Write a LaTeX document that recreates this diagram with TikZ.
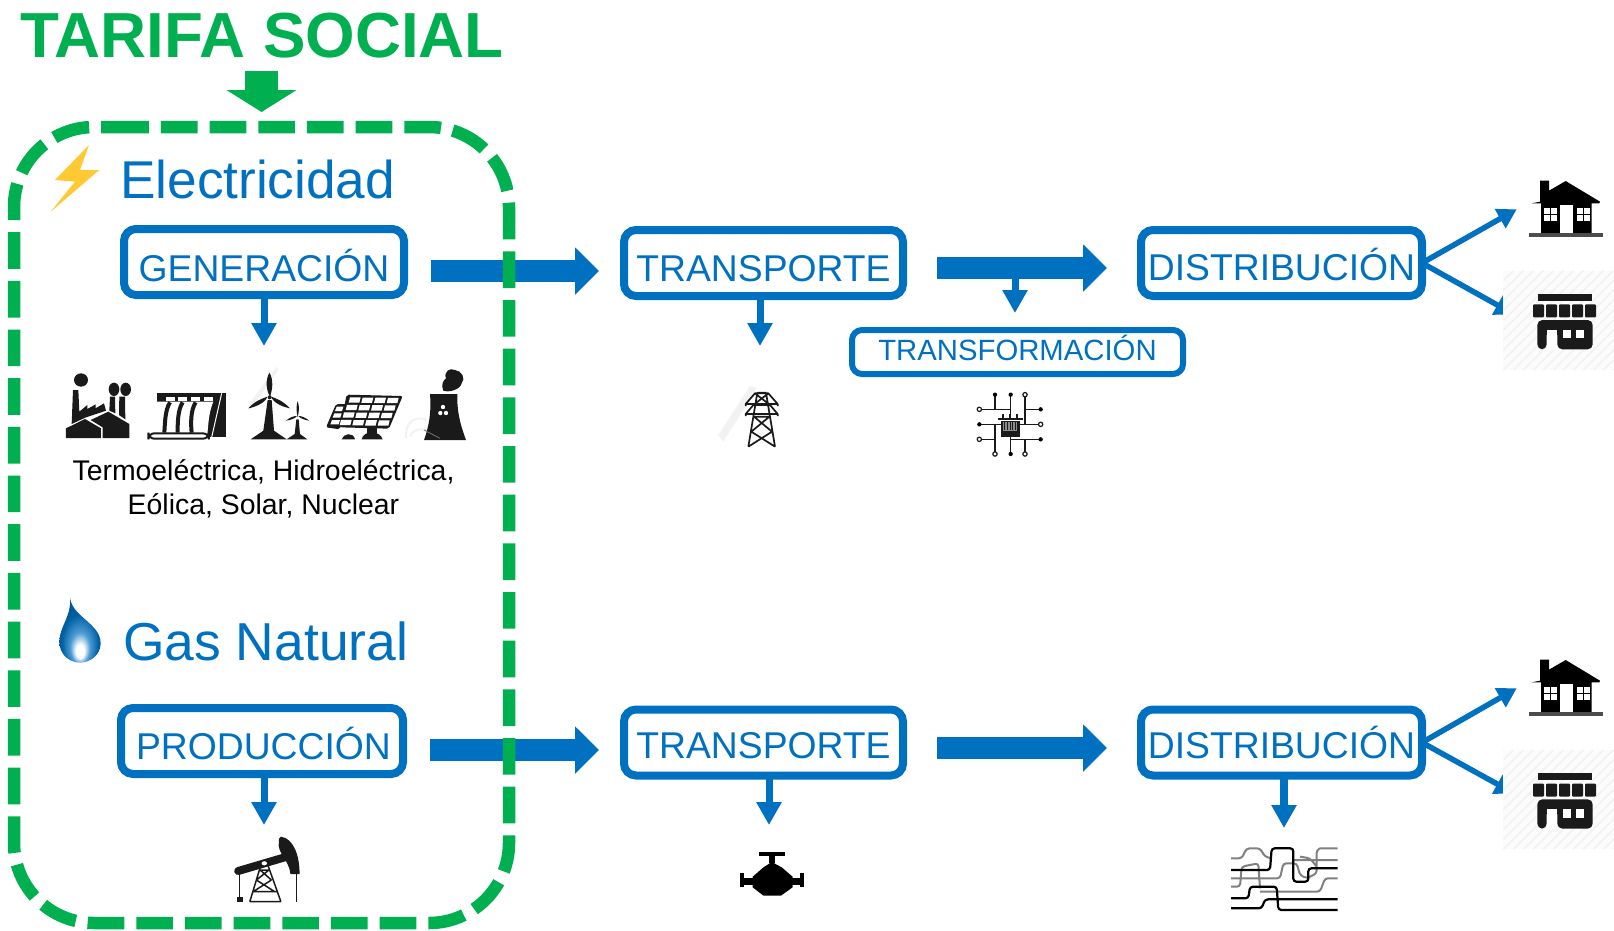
\documentclass[tikz,border=0pt]{standalone}
\usepackage{fontspec}
\setmainfont{Liberation Sans}
\usetikzlibrary{arrows.meta,calc}
\definecolor{azul}{HTML}{0070C0}
\definecolor{verde}{HTML}{00B050}
\definecolor{negro}{HTML}{1A1A1A}
\definecolor{marca}{HTML}{F2F2F2}
\definecolor{rayo}{HTML}{FFC933}
\pgfdeclareradialshading{llama}{\pgfpoint{0bp}{-18bp}}{color(0bp)=(white);color(5bp)=(white);color(12bp)=(azul!70!white);color(22bp)=(azul!85!black);color(50bp)=(azul!50!black)}
\tikzset{
 zm/.style n args={4}{shift={(#1pt,-#2pt)},x=#3pt,y=-#4pt},
 caja/.style={draw=azul,line width=8pt,rounded corners=12pt,outer sep=0pt,inner sep=0pt,text=azul,
   font=\fontsize{37.3}{37.3}\selectfont,text depth=0pt,minimum height=66pt},
 cajita/.style={draw=azul,line width=6pt,rounded corners=10pt,outer sep=0pt,inner sep=0pt,text=azul,
   font=\fontsize{29.3}{30}\selectfont,text height=16pt,text depth=0pt,minimum height=44pt,minimum width=331pt},
 gruesa/.style={draw=azul,line width=22pt,-{Triangle[length=24pt,width=46pt]},shorten <=26.5pt,shorten >=25pt},
 gruesab/.style={draw=azul,line width=22pt,-{Triangle[length=24pt,width=46pt]}},
 abajo/.style={draw=azul,line width=7pt,-{Triangle[length=23pt,width=24pt]}},
 abajog/.style={draw=azul,line width=8.5pt,-{Triangle[length=23pt,width=24pt]}},
 rama/.style={draw=azul,line width=5.5pt,-{Triangle[length=19pt,width=21pt]}},
 titulo/.style={text=azul,anchor=base west,inner sep=0pt,font=\fontsize{53.2}{53.2}\selectfont},
}
\newcommand\casa[1]{\begin{scope}[zm={1400}{#1}{.33333}{.33333}]
 \fill[black] (420,155)--(420,92)--(447,92)--(447,122)--(497,93)--(600,155)--(598,160)--(575,160)--(575,250)--(423,250)--(423,160)--(395,160)--cycle;
 \fill[white] (480,165) rectangle (518,250);
 \fill[white] (432,175) rectangle (470,212);
 \fill[white] (532,175) rectangle (570,212);
 \draw[black,line width=1pt] (451,175)--(451,212) (432,193)--(470,193) (551,175)--(551,212) (532,193)--(570,193);
 \fill[black!70] (388,250) rectangle (608,262);
\end{scope}}
\newcommand\tienda[1]{\begin{scope}[zm={1400}{#1}{.33333}{.33333}]
 \fill[black!1] (310,362) rectangle (642,660);
 \begin{scope}
  \clip (310,362) rectangle (642,660);
  \foreach \i in {0,30,...,660} \draw[marca,line width=1.5pt] (310+\i-300,660)--(310+\i,362);
 \end{scope}
 \fill[negro] (415,432) rectangle (575,452);
 \foreach \i in {0,...,4} \fill[negro,rounded corners=1pt] (399+\i*39,463) rectangle (432+\i*39,502);
 \fill[negro,rounded corners=5pt] (412,510)--(578,510)--(578,598)--(472,598)--(472,540)--(440,540)--(440,598)--(412,598)--cycle;
 \fill[white] (490,540) rectangle (512,565);
 \fill[white] (528,540) rectangle (552,565);
 \fill[white] (440,540) rectangle (472,600);
\end{scope}}
\begin{document}
\begin{tikzpicture}[x=1pt,y=-1pt]
\useasboundingbox (0,0) rectangle (1614,930);
\fill[white] (0,0) rectangle (1614,930);

% cajas
\node[caja,minimum width=280pt,text height=38pt] (gen) at (264,262) {GENERACIÓN};
\node[caja,minimum width=279pt,text height=36pt] (tr1) at (763.5,263) {TRANSPORTE};
\node[caja,minimum width=281pt,text height=35pt] (dis1) at (1281.5,263) {DISTRIBUCIÓN};
\node[cajita] (transf) at (1017.5,352) {TRANSFORMACIÓN};
\node[caja,minimum width=282pt,text height=36pt] (prod) at (262,741) {\hspace*{3pt}PRODUCCIÓN};
\node[caja,minimum width=279pt,text height=32pt] (tr2) at (763.5,742.5) {TRANSPORTE};
\node[caja,minimum width=281pt,text height=32pt] (dis2) at (1281.5,742.5) {DISTRIBUCIÓN};

% coordenadas libres
\coordinate (c1) at (1516.7,209.3);
\coordinate (c2) at (1514,314.3);
\coordinate (c3) at (1516.7,688.3);
\coordinate (c4) at (1514,793.3);
\coordinate (g1) at (264,346);
\coordinate (t1) at (760,346);
\coordinate (p1) at (264,825);
\coordinate (t2) at (769,825);
\coordinate (d2) at (1284,828);
\coordinate (ta) at (937,268);
\coordinate (tb) at (1107,268);
\coordinate (tc) at (1015,279);
\coordinate (td) at (1015,313);
\coordinate (ba) at (937,748);
\coordinate (bb) at (1107,748);

% flechas
\draw[gruesa] ([yshift=-9pt]gen.east) -- ([yshift=-8pt]tr1.west);
\draw[gruesab] (ta) -- (tb);
\draw[abajo] (tc) -- (td);
\draw[gruesa] ([yshift=-9pt]prod.east) -- ([yshift=-7.5pt]tr2.west);
\draw[gruesab] (ba) -- (bb);
\draw[abajo] (gen.south) -- (g1);
\draw[abajo] (tr1.south -| t1) -- (t1);
\draw[abajo] (prod.south -| p1) -- (p1);
\draw[abajo] (tr2.south -| t2) -- (t2);
\draw[abajog] (dis2.south -| d2) -- (d2);
\draw[rama] (dis1.east) -- (c1);
\draw[rama] (dis1.east) -- (c2);
\draw[rama] (dis2.east) -- (c3);
\draw[rama] (dis2.east) -- (c4);

% recuadro verde
\draw[verde,line width=12.5pt,dash pattern=on 36.67pt off 12pt]
  (112.3,127)--(429,127) arc[start angle=90,end angle=0,radius=80pt]
  --(509,843) arc[start angle=0,end angle=-90,radius=80pt]
  --(94,923) arc[start angle=-90,end angle=-180,radius=80pt]
  --(14,207) arc[start angle=180,end angle=90,radius=80pt]--(112.3,127);

% titulo
\node[anchor=base west,inner sep=0pt,text=verde,font=\bfseries\fontsize{63.7}{63.7}\selectfont] (tit) at (20,57) {TARIFA SOCIAL};
\coordinate (fv) at (261.5,71);
\coordinate (fw) at (261.5,112);
\draw[verde,line width=33pt,-{Triangle[length=22pt,width=69pt]}] (fv) -- (fw);

\node[titulo] (elec) at (120,198) {Electricidad};
\node[titulo,font=\fontsize{53.4}{53.4}\selectfont] (gas) at (123,660) {Gas Natural};
\node[inner sep=0pt,align=center,font=\fontsize{28.4}{33.8}\selectfont,text=black] (lista) at (263.5,489) {Termoeléctrica, Hidroeléctrica,\\Eólica, Solar, Nuclear};

% rayo
\begin{scope}[zm={0}{0}{.33333}{.33333}]
 \fill[rayo] (267,435)--(165,540)--(225,545)--(152,635)--(298,510)--(240,510)--cycle;
\end{scope}
% llama
\begin{scope}[zm={0}{580}{.33333}{.33333}]
 \path[shading=llama] (210,52) .. controls (215,110) and (302,130) .. (302,190) .. controls (302,225) and (270,248) .. (240,248) .. controls (205,248) and (178,220) .. (178,185) .. controls (178,140) and (215,110) .. (210,52) -- cycle;
\end{scope}

% fabrica, presa, eolica, solar, nuclear
\begin{scope}[zm={0}{340}{.33333}{.33333}]
 \fill[negro] (198,294)--(198,265)--(255,237)--(303,265)--(303,294)--cycle;
 \fill[negro] (308,294)--(308,262)--(272,240)--(325,215)--(388,252)--(388,294)--cycle;
 \fill[negro] (215,252)--(219,150)--(235,150)--(238,215)--(262,195)--(262,207)--(287,193)--(287,205)--(312,190)--(318,212)--(258,232)--cycle;
 \fill[negro] (328,212)--(330,170)--(345,170)--(346,220)--cycle;
 \fill[negro] (357,225)--(358,170)--(375,170)--(376,238)--cycle;
 \fill[negro] (243,120) ellipse (21 and 20);
 \fill[negro] (342,148) ellipse (16 and 20);
 \fill[negro] (377,148) ellipse (16 and 20);
 % presa
 \fill[negro] (470,160) rectangle (678,292);
 \fill[white] (470,185) .. controls (480,185) and (640,185) .. (640,185) .. controls (625,220) and (625,260) .. (622,282) -- (450,282) .. controls (465,250) and (465,220) .. (470,185) -- cycle;
 \foreach \a/\b in {497/525,535/562,573/600,612/640} \fill[white] (\a,172) rectangle (\b,182);
 \draw[negro,line width=4pt] (510,187) .. controls (495,210) and (495,250) .. (493,278);
 \draw[negro,line width=4pt] (548,187) .. controls (533,210) and (533,250) .. (533,278);
 \draw[negro,line width=4pt] (587,187) .. controls (572,210) and (572,250) .. (575,278);
 \draw[negro,line width=2pt,fill=white,rounded corners=6pt] (445,280) rectangle (627,296);
 \draw[white,line width=1pt] (665,160)--(635,292);
 % eolicas
 \fill[marca] (745,195)--(830,80)--(835,90)--(750,210)--cycle;
 \fill[negro] (803,180)--(815,180)--(822,272)--(860,298)--(752,298)--(790,272)--cycle;
 \fill[negro] (808,98) .. controls (822,120) and (817,150) .. (810,170) .. controls (798,150) and (796,120) .. (808,98) -- cycle;
 \fill[negro] (745,205) .. controls (765,183) and (785,176) .. (802,170) .. controls (797,187) and (770,200) .. (745,205) -- cycle;
 \fill[negro] (870,205) .. controls (850,183) and (830,176) .. (814,170) .. controls (818,187) and (845,200) .. (870,205) -- cycle;
 \fill[negro] (809,172) circle (6);
 \fill[negro] (889,238)--(896,238)--(900,282)--(922,298)--(860,298)--(884,282)--cycle;
 \fill[negro] (893,183) .. controls (899,200) and (897,215) .. (893,232) .. controls (889,215) and (888,200) .. (893,183) -- cycle;
 \fill[negro] (858,242) .. controls (870,232) and (880,228) .. (891,228) .. controls (885,236) and (872,240) .. (858,242) -- cycle;
 \fill[negro] (928,242) .. controls (915,232) and (905,228) .. (895,228) .. controls (902,236) and (915,240) .. (928,242) -- cycle;
 % solar
 \fill[negro,rounded corners=2pt] (1008,192)--(1040,192)--(1020,268)--(978,262)--cycle;
 \foreach \j in {0,1,2} \fill[white] (1010-\j*7,200+\j*20)--(1030-\j*5,200+\j*20)--(1026-\j*5,213+\j*20)--(1005-\j*7,213+\j*20)--cycle;
 \fill[negro,rounded corners=2pt] (1040,164)--(1208,168)--(1167,266)--(1020,262)--cycle;
 \foreach \i in {0,1,2,3} \foreach \j in {0,1,2,3} {
  \fill[white] (1050+\i*38-\j*9,172+\i*.5+\j*22.5)--(1082+\i*38-\j*9,172+\i*.5+\j*22.5)--(1078+\i*38-\j*9,188+\i*.5+\j*22.5)--(1046+\i*38-\j*9,188+\i*.5+\j*22.5)--cycle;}
 \fill[negro] (1025,298) .. controls (1030,280) and (1060,275) .. (1065,298) -- cycle;
 \fill[negro] (1085,298) .. controls (1090,270) and (1140,270) .. (1148,298) -- cycle;
 \fill[negro] (1100,262) rectangle (1130,285);
 % nuclear
 \draw[marca,line width=2pt] (1218,295) .. controls (1215,250) and (1240,225) .. (1280,240);
 \draw[marca,line width=2pt] (1230,290) .. controls (1240,260) and (1280,260) .. (1320,295);
 \fill[negro] (1290,162)--(1372,162) .. controls (1370,220) and (1385,265) .. (1398,300) -- (1272,300) .. controls (1285,265) and (1295,220) .. (1290,162) -- cycle;
 \draw[black!55,line width=.8pt] (1272,270)--(1320,295);
 \fill[negro] (1330,152) .. controls (1322,135) and (1330,120) .. (1338,115) .. controls (1330,95) and (1350,82) .. (1365,90) .. controls (1385,92) and (1398,115) .. (1385,130) .. controls (1380,150) and (1345,158) .. (1330,152) -- cycle;
 \fill[white] (1329,201) circle (6.5);
 \fill[white] (1321,219) circle (6.5);
 \fill[white] (1338,219) circle (6.5);
\end{scope}

% torre, chip
\begin{scope}[zm={700}{320}{.33333}{.33333}]
 \fill[marca] (55,345)--(150,198)--(170,205)--(70,365)--cycle;
 \draw[negro,line width=1.7pt,line join=round]
  (172,218)--(145,380) (198,218)--(225,380)
  (172,218)--(198,218)
  (137,252)--(165,220)--(205,220)--(233,252)--cycle
  (137,282)--(160,255)--(210,255)--(233,282)--cycle
  (137,252)--(137,258) (233,252)--(233,258) (137,282)--(137,288) (233,282)--(233,288)
  (162,290)--(208,290) (162,290)--(216,335) (208,290)--(154,335) (154,335)--(225,380) (216,335)--(145,380)
  (165,220)--(210,255) (205,220)--(160,255);
 % chip
 \draw[negro,line width=1.5pt]
  (885,222)--(885,268) (838,268)--(932,268) (932,222)--(932,282)
  (975,222)--(975,313) (975,268)--(1022,268) (960,313)--(1022,313)
  (838,313)--(902,313) (885,313)--(885,402) (838,358)--(885,358)
  (932,350)--(932,402) (932,358)--(1022,358) (975,358)--(975,402);
 \draw[negro,line width=2.2pt] (908,282)--(908,300) (931,282)--(931,300) (952,282)--(952,300) (895,298)--(968,298);
 \fill[negro] (902,302) rectangle (960,350);
 \fill[black!45] (908,306) rectangle (952,332);
 \foreach \a in {914,922,930,938,946} \draw[negro,line width=.7pt] (\a,307)--(\a,331);
 \foreach \p in {(885,224),(932,224),(1022,268),(838,313),(1022,358),(932,402)} \fill[black] \p circle (6.5);
 \foreach \p in {(975,224),(838,268),(1022,313),(838,358),(885,402),(975,402)} \draw[negro,line width=1.2pt,fill=white] \p circle (6.5);
\end{scope}

\casa{150}\casa{629}
\tienda{150}\tienda{629.3}

% bombeo, valvula
\begin{scope}[zm={200}{780}{.41494}{.33333}]
 \draw[negro,line width=8pt,line cap=round] (92,273)--(215,228);
 \fill[negro] (195,170) .. controls (225,175) and (240,225) .. (240,282) -- (218,282) .. controls (215,240) and (185,220) .. (190,185) .. controls (190,175) and (192,172) .. (195,170) -- cycle;
 \draw[negro,line width=1.3pt] (96,275)--(96,355) (233,280)--(233,365);
 \fill[negro] (88,352) rectangle (104,365);
 \draw[negro,line width=1.5pt,line join=round] (148,250)--(120,365) (162,250)--(195,365) (120,365)--(195,365)
  (145,270)--(166,270) (145,270)--(172,300) (166,270)--(136,300) (136,300)--(180,335) (172,300)--(128,335) (128,335)--(188,335);
 \draw[negro,line width=1.5pt,fill=white] (155,250) circle (9);
 % valvula
 \fill[black] (1348,215) rectangle (1410,227);
 \fill[black] (1372,227) rectangle (1386,250);
 \fill[black] (1378,246)--(1402,262)--(1428,290)--(1428,322)--(1400,347)--(1358,347)--(1332,322)--(1332,290)--(1358,262)--cycle;
 \fill[black] (1305,294) rectangle (1450,314);
 \fill[black] (1302,280) rectangle (1312,322);
 \fill[black] (1445,280) rectangle (1455,322);
\end{scope}

% red de tuberias
\begin{scope}[zm={1200}{640}{.33333}{.33333}]
 \draw[black!50,line width=2pt,rounded corners=3pt]
  (93,655)--(125,655)--(140,625)--(180,625)--(195,650)--(215,655)
  (360,625)--(413,625)
  (280,660)--(413,660)
  (93,715)--(240,715)--(250,670)--(290,670)--(300,705)--(320,715)--(350,700)--(350,630)--(360,625)
  (93,740)--(120,740)--(125,680)--(175,670)--(180,745)
  (180,755)--(360,755)--(375,715)--(413,715)
  (300,650)--(330,655)--(350,680);
 \draw[black,line width=2.2pt,rounded corners=3pt]
  (93,690)--(210,690)--(215,625)--(280,625)--(280,725)--(325,725)--(325,685)--(413,685)
  (93,775)--(145,775)--(150,740)--(230,740)--(235,810)--(413,810)
  (93,805)--(185,805)--(195,778)--(413,778);
\end{scope}
\end{tikzpicture}
\end{document}
